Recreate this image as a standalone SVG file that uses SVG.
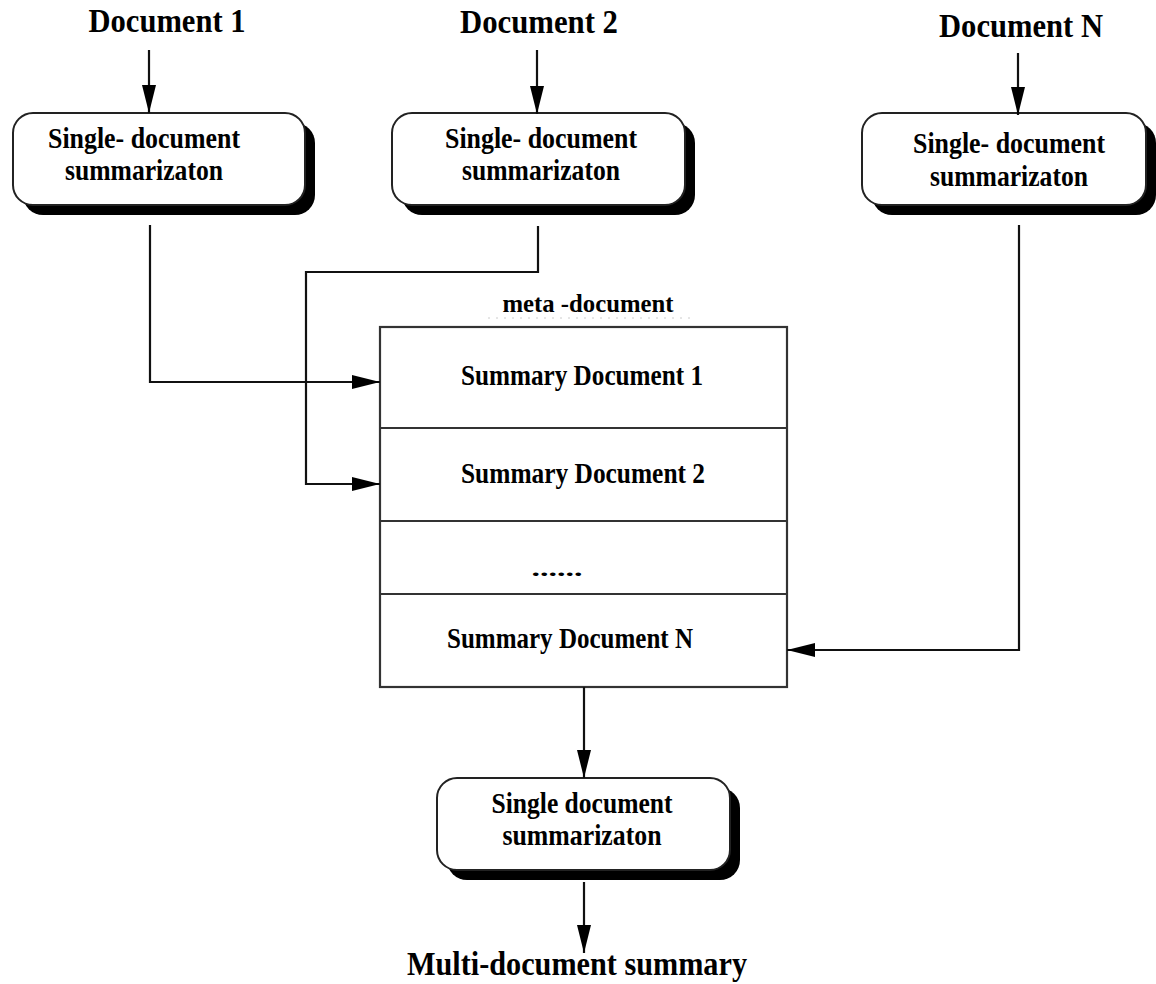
<svg xmlns="http://www.w3.org/2000/svg" width="1156" height="984" viewBox="0 0 1156 984">
<style>
text { font-family: "Liberation Serif", "Times New Roman", serif; font-weight: bold; fill: #000; text-anchor: middle; }
.title { font-size: 33px; }
.box { font-size: 29px; }
.row { font-size: 29px; }
.meta { font-size: 26px; }
.shadow { fill: #000; }
.rbox { fill: #fff; stroke: #222; stroke-width: 2; }
.conn { fill: none; stroke: #111; stroke-width: 2.2; }
.mbox { fill: #fff; stroke: #333; stroke-width: 2.2; }
</style>
<defs>
<marker id="arr" markerUnits="userSpaceOnUse" markerWidth="30" markerHeight="16" refX="28" refY="7" orient="auto">
<path d="M0,0 L28,7 L0,14 Z" fill="#000"/>
</marker>
</defs>
<rect width="1156" height="984" fill="#fff"/>

<g id="doc1">
<text class="title" x="167" y="32" textLength="157" lengthAdjust="spacingAndGlyphs">Document 1</text>
</g>
<g id="doc2">
<text class="title" x="539" y="33" textLength="158" lengthAdjust="spacingAndGlyphs">Document 2</text>
</g>
<g id="docN">
<text class="title" x="1021" y="37" textLength="164" lengthAdjust="spacingAndGlyphs">Document N</text>
</g>

<g id="sds1">
<rect class="shadow" x="23" y="123" width="292" height="92" rx="20"/>
<rect class="rbox" x="13" y="113" width="292" height="92" rx="20"/>
<text class="box" x="144" y="148" textLength="192" lengthAdjust="spacingAndGlyphs">Single- document</text>
<text class="box" x="144" y="180" textLength="158" lengthAdjust="spacingAndGlyphs">summarizaton</text>
</g>
<g id="sds2">
<rect class="shadow" x="402" y="123" width="293" height="92" rx="20"/>
<rect class="rbox" x="392" y="113" width="293" height="92" rx="20"/>
<text class="box" x="541" y="148" textLength="192" lengthAdjust="spacingAndGlyphs">Single- document</text>
<text class="box" x="541" y="180" textLength="158" lengthAdjust="spacingAndGlyphs">summarizaton</text>
</g>
<g id="sdsN">
<rect class="shadow" x="872" y="123" width="284" height="92" rx="20"/>
<rect class="rbox" x="862" y="113" width="284" height="92" rx="20"/>
<text class="box" x="1009" y="153" textLength="192" lengthAdjust="spacingAndGlyphs">Single- document</text>
<text class="box" x="1009" y="186" textLength="158" lengthAdjust="spacingAndGlyphs">summarizaton</text>
</g>

<g id="metadoc">
<text class="meta" x="588" y="312" textLength="171" lengthAdjust="spacingAndGlyphs">meta -document</text>
<line x1="488" y1="318" x2="695" y2="318" stroke="#ccc" stroke-width="1" stroke-dasharray="2,6"/>
<rect class="mbox" x="380" y="327" width="407" height="360"/>
<line x1="380" y1="428" x2="787" y2="428" stroke="#333" stroke-width="2"/>
<line x1="380" y1="521" x2="787" y2="521" stroke="#333" stroke-width="2"/>
<line x1="380" y1="594" x2="787" y2="594" stroke="#333" stroke-width="2"/>
<text class="row" x="582" y="385" textLength="242" lengthAdjust="spacingAndGlyphs">Summary Document 1</text>
<text class="row" x="583" y="483" textLength="244" lengthAdjust="spacingAndGlyphs">Summary Document 2</text>
<text class="row" x="557" y="576" textLength="51" lengthAdjust="spacingAndGlyphs" style="font-size:22px">......</text>
<text class="row" x="570" y="648" textLength="246" lengthAdjust="spacingAndGlyphs">Summary Document N</text>
</g>

<g id="sdsFinal">
<rect class="shadow" x="447" y="788" width="293" height="92" rx="20"/>
<rect class="rbox" x="437" y="778" width="293" height="92" rx="20"/>
<text class="box" x="582" y="813" textLength="181" lengthAdjust="spacingAndGlyphs">Single document</text>
<text class="box" x="582" y="845" textLength="159" lengthAdjust="spacingAndGlyphs">summarizaton</text>
</g>

<g id="multi">
<text class="title" x="577" y="975" textLength="340" lengthAdjust="spacingAndGlyphs">Multi-document summary</text>
</g>

<g id="connectors">
<line class="conn" x1="149" y1="50" x2="149" y2="113" marker-end="url(#arr)"/>
<line class="conn" x1="537" y1="50" x2="537" y2="114" marker-end="url(#arr)"/>
<line class="conn" x1="1018" y1="53" x2="1018" y2="115" marker-end="url(#arr)"/>
<polyline class="conn" points="150,225 150,382 380,382" marker-end="url(#arr)"/>
<polyline class="conn" points="538,226 538,272 306,272 306,484 380,484" marker-end="url(#arr)"/>
<polyline class="conn" points="1019,225 1019,650 787,650" marker-end="url(#arr)"/>
<line class="conn" x1="584" y1="687" x2="584" y2="778" marker-end="url(#arr)"/>
<line class="conn" x1="584" y1="882" x2="584" y2="953" marker-end="url(#arr)"/>
</g>
</svg>
